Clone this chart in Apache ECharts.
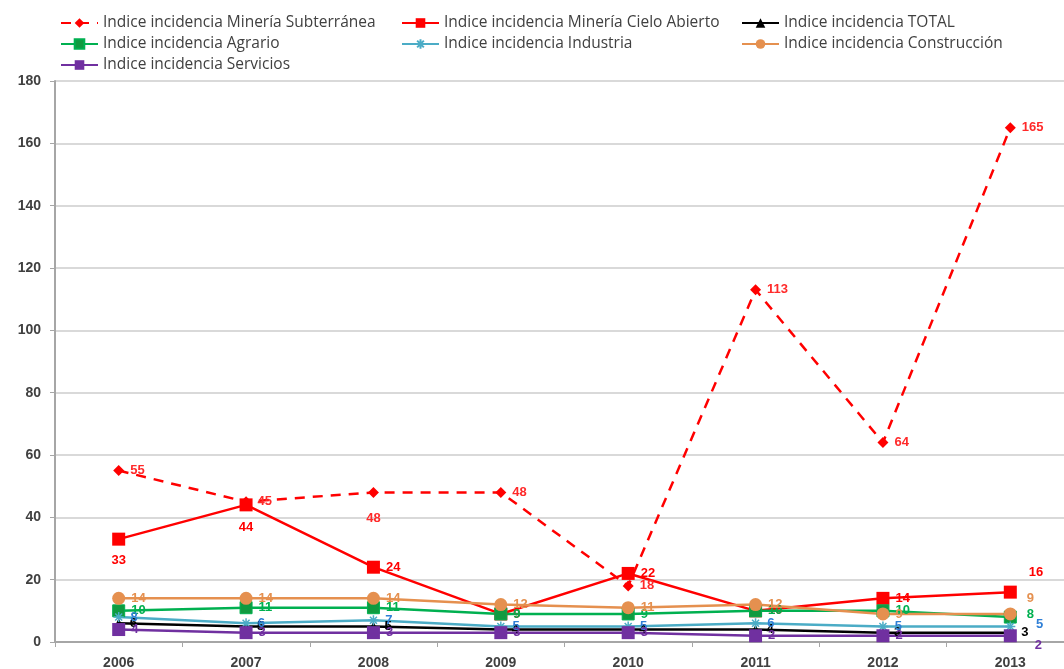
<!DOCTYPE html>
<html>
<head>
<meta charset="utf-8">
<script src="https://cdn.jsdelivr.net/npm/echarts@6/dist/echarts.min.js"></script>
<style>
html, body { margin: 0; padding: 0; background: #fff; }
#chart { width: 1064px; height: 669px; }
</style>
</head>
<body>
<div id="chart"></div>
<script>
var years = ['2006', '2007', '2008', '2009', '2010', '2011', '2012', '2013']
var subterranea = [55, 45, 48, 48, 18, 113, 64, 165]
var cieloAbierto = [33, 44, 24, 9, 22, 10, 14, 16]
var total = [6, 5, 5, 4, 4, 4, 3, 3]
var agrario = [10, 11, 11, 9, 9, 10, 10, 8]
var industria = [8, 6, 7, 5, 5, 6, 5, 5]
var construccion = [14, 14, 14, 12, 11, 12, 9, 9]
var servicios = [4, 3, 3, 3, 3, 2, 2, 2]

var names = [
	'Indice incidencia Minería Subterránea',
	'Indice incidencia Minería Cielo Abierto',
	'Indice incidencia TOTAL',
	'Indice incidencia Agrario',
	'Indice incidencia Industria',
	'Indice incidencia Construcción',
	'Indice incidencia Servicios'
]

var font = 'Liberation Sans'
var legendFont = 'Open Sans'
var asterisk = 'path://M0,5L10,5M5,0L5,10M1.5,1.5L8.5,8.5M8.5,1.5L1.5,8.5'

// per point label tweaks, keyed by index
function withLabels(values, tweaks) {
	return values.map(function (v, i) {
		if (tweaks && tweaks[i]) {
			return { value: v, label: tweaks[i] }
		}
		return v
	})
}

function makeSeries(name, values, color, labelColor, symbol, size, extra) {
	var s = {
		name: name,
		type: 'line',
		data: values,
		symbol: symbol,
		symbolSize: size,
		lineStyle: { color: color, width: 2.5 },
		itemStyle: { color: color },
		label: {
			show: true,
			position: 'right',
			distance: 6,
			color: labelColor,
			fontFamily: font,
			fontSize: 13,
			fontWeight: 'bold'
		},
		emphasis: { disabled: true },
		animation: false
	}
	if (extra) {
		for (var k in extra) s[k] = extra[k]
	}
	return s
}

var legendCommon = {
	orient: 'vertical',
	top: 15,
	padding: 0,
	itemWidth: 37,
	itemHeight: 12,
	itemGap: 5,
	textStyle: { fontFamily: legendFont, fontSize: 15.5, color: '#404040' }
}

var chart = echarts.init(document.getElementById('chart'))

var option = {
	animation: false,
	legend: [
		Object.assign({}, legendCommon, { left: 60, data: [names[0], names[3], names[6]] }),
		Object.assign({}, legendCommon, { left: 401, data: [names[1], names[4]] }),
		Object.assign({}, legendCommon, { left: 741, data: [names[2], names[5]] })
	],
	grid: {
		left: 55,
		top: 81,
		width: 1019,
		bottom: 27,
		outerBoundsMode: 'none'
	},
	xAxis: {
		type: 'category',
		data: years,
		axisLine: { lineStyle: { color: '#a6a6a6', width: 2 } },
		axisTick: { show: true, length: 5, lineStyle: { color: '#a6a6a6' } },
		axisLabel: { color: '#404040', fontFamily: font, fontSize: 14, fontWeight: 'bold', margin: 14 }
	},
	yAxis: {
		type: 'value',
		min: 0,
		max: 180,
		interval: 20,
		axisLine: { show: true, lineStyle: { color: '#a6a6a6', width: 2 } },
		axisTick: { show: true, length: 5, lineStyle: { color: '#a6a6a6' } },
		splitLine: { lineStyle: { color: '#d9d9d9', width: 2 } },
		axisLabel: { color: '#404040', fontFamily: font, fontSize: 14, fontWeight: 'bold', margin: 14 }
	},
	series: [
		makeSeries(names[0], withLabels(subterranea, {
			2: { position: 'bottom', distance: 14 }
		}), '#ff0000', '#ff2a2a', 'diamond', 11, {
			lineStyle: { color: '#ff0000', width: 2.5, type: [10, 8] }
		}),
		makeSeries(names[1], withLabels(cieloAbierto, {
			0: { position: 'bottom', distance: 8 },
			1: { position: 'bottom', distance: 10 },
			7: { position: 'right', offset: [6, -20] }
		}), '#ff0000', '#ff0000', 'rect', 13),
		makeSeries(names[2], total, '#000000', '#000000', 'triangle', 10),
		makeSeries(names[3], withLabels(agrario, {
			7: { position: 'right', offset: [4, -3] }
		}), '#00b050', '#00b050', 'rect', 12, {
			itemStyle: { color: '#109a40', borderColor: '#00b050', borderWidth: 1 }
		}),
		makeSeries(names[4], withLabels(industria, {
			7: { position: 'right', offset: [14, -2] }
		}), '#4bacc6', '#2f7fd6', asterisk, 10, {
			itemStyle: { color: '#4bacc6', borderColor: '#4bacc6', borderWidth: 1.5 }
		}),
		makeSeries(names[5], withLabels(construccion, {
			7: { position: 'right', offset: [4, -16] }
		}), '#e5904f', '#e5904f', 'circle', 13),
		makeSeries(names[6], withLabels(servicios, {
			7: { position: 'right', offset: [12, 10] }
		}), '#7030a0', '#7030a0', 'rect', 13)
	]
}

chart.setOption(option)
</script>
</body>
</html>
